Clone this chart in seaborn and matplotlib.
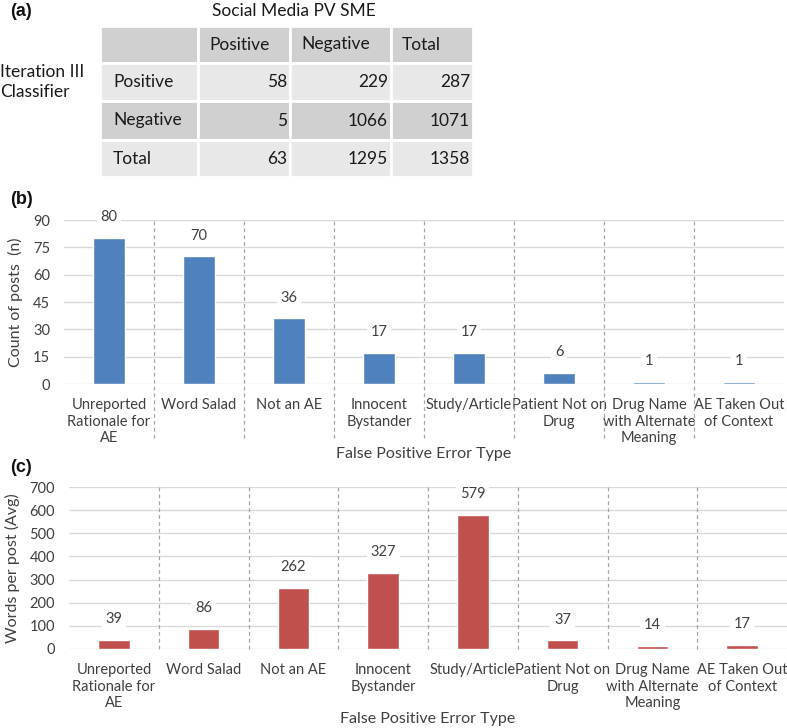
import matplotlib
matplotlib.use("Agg")
import matplotlib.pyplot as plt
import matplotlib.transforms as mtransforms
from matplotlib.patches import Rectangle
import seaborn as sns

# table (a)
col_heads = ["Positive", "Negative", "Total"]
row_heads = ["Positive", "Negative", "Total"]
tbl_values = [[58, 229, 287],
              [5, 1066, 1071],
              [63, 1295, 1358]]

# bar panels (b) and (c)
categories = ["Unreported\nRationale for\nAE", "Word Salad", "Not an AE",
              "Innocent\nBystander", "Study/Article", "Patient Not on\nDrug",
              "Drug Name\nwith Alternate\nMeaning", "AE Taken Out\nof Context"]
post_counts = [80, 70, 36, 17, 17, 6, 1, 1]
words_per_post = [39, 86, 262, 327, 579, 37, 14, 17]

sns.set_theme(style="white")
plt.rcParams['font.family'] = ['Lato', 'DejaVu Sans']

W, H = 787, 728
fig = plt.figure(figsize=(W / 100, H / 100), dpi=100)

# overlay axes in pixel coordinates for the table and panel letters
ov = fig.add_axes([0, 0, 1, 1], zorder=0)
ov.set_xlim(0, W)
ov.set_ylim(H, 0)
ov.axis("off")

col_edges = [100, 198, 290, 391, 473]
row_edges = [26, 63, 101, 140, 177]
row_colors = ["#d0d0d0", "#e8e8e8", "#d0d0d0", "#e8e8e8"]
txt_color = "#1a1a1a"
for r in range(4):
    for c in range(4):
        x0, x1 = col_edges[c], col_edges[c + 1]
        y0, y1 = row_edges[r], row_edges[r + 1]
        ov.add_patch(Rectangle((x0, y0), x1 - x0, y1 - y0, facecolor=row_colors[r],
                               edgecolor="white", linewidth=2))
        yc = (y0 + y1) / 2
        if r == 0 and c > 0:
            ov.text(x0 + 11, yc, col_heads[c - 1], ha="left", va="center",
                    fontsize=12.5, color=txt_color)
        elif r > 0 and c == 0:
            ov.text(x0 + 13, yc, row_heads[r - 1], ha="left", va="center",
                    fontsize=12.5, color=txt_color)
        elif r > 0:
            ov.text(x1 - 3, yc, str(tbl_values[r - 1][c - 1]), ha="right", va="center",
                    fontsize=12.5, color=txt_color)

ov.text(294, 11, "Social Media PV SME", ha="center", va="center", fontsize=12.5, color=txt_color)
ov.text(0, 82, "Iteration III\nClassifier", ha="left", va="center", fontsize=12.5,
        color=txt_color, linespacing=1.25)
for lab, yy in [("(a)", 12), ("(b)", 200), ("(c)", 467)]:
    ov.text(10, yy, lab, ha="left", va="center", fontsize=13, fontweight="bold",
            family="Liberation Sans", color="#111111")


def bar_panel(rect, values, color, ymax, step, ylabel, sep_below):
    ax = fig.add_axes(rect, zorder=1)
    ax.patch.set_alpha(0)
    sns.barplot(x=list(range(len(values))), y=values, color=color, saturation=1,
                width=0.35, ax=ax, zorder=3)
    ax.set_xlim(-0.5, len(values) - 0.5)
    ax.set_ylim(0, ymax)
    ax.set_yticks(range(0, ymax + 1, step))
    ax.grid(axis="y", color="#d9d9d9", linewidth=1, zorder=0)
    ax.set_axisbelow(True)
    for s in ax.spines.values():
        s.set_visible(False)
    ax.set_xticks(range(len(values)))
    ax.set_xticklabels(categories, linespacing=1.25)
    ax.tick_params(axis="x", length=0, pad=10, labelsize=10.5, labelcolor="#404040")
    ax.tick_params(axis="y", length=0, pad=10, labelsize=10.5, labelcolor="#404040")
    ax.set_xlabel("False Positive Error Type", fontsize=11.5, color="#404040", labelpad=1)
    ax.set_ylabel(ylabel, fontsize=11.5, color="#404040", labelpad=7)
    trans = mtransforms.blended_transform_factory(ax.transData, ax.transAxes)
    for i in range(1, len(values)):
        ax.plot([i - 0.5, i - 0.5], [sep_below, 1], transform=trans, clip_on=False,
                color="#a6a6a6", linewidth=0.9, linestyle=(0, (3, 2.5)), zorder=1)
    for i, v in enumerate(values):
        ax.annotate(str(v), (i, v), xytext=(0, 10), textcoords="offset points",
                    ha="center", va="bottom", fontsize=10.5, color="#404040", zorder=4,
                    bbox=dict(boxstyle="square,pad=0.25", facecolor="white", edgecolor="none"))
    return ax


bar_panel([64 / W, 1 - 384 / H, 720 / W, 164 / H], post_counts, "#4f81bd", 90, 15,
          "Count of posts  (n)", -0.33)
bar_panel([69 / W, 1 - 649 / H, 718 / W, 162 / H], words_per_post, "#c0504d", 700, 100,
          "Words per post (Avg)", 0)

fig.savefig("out.png", dpi=100)
